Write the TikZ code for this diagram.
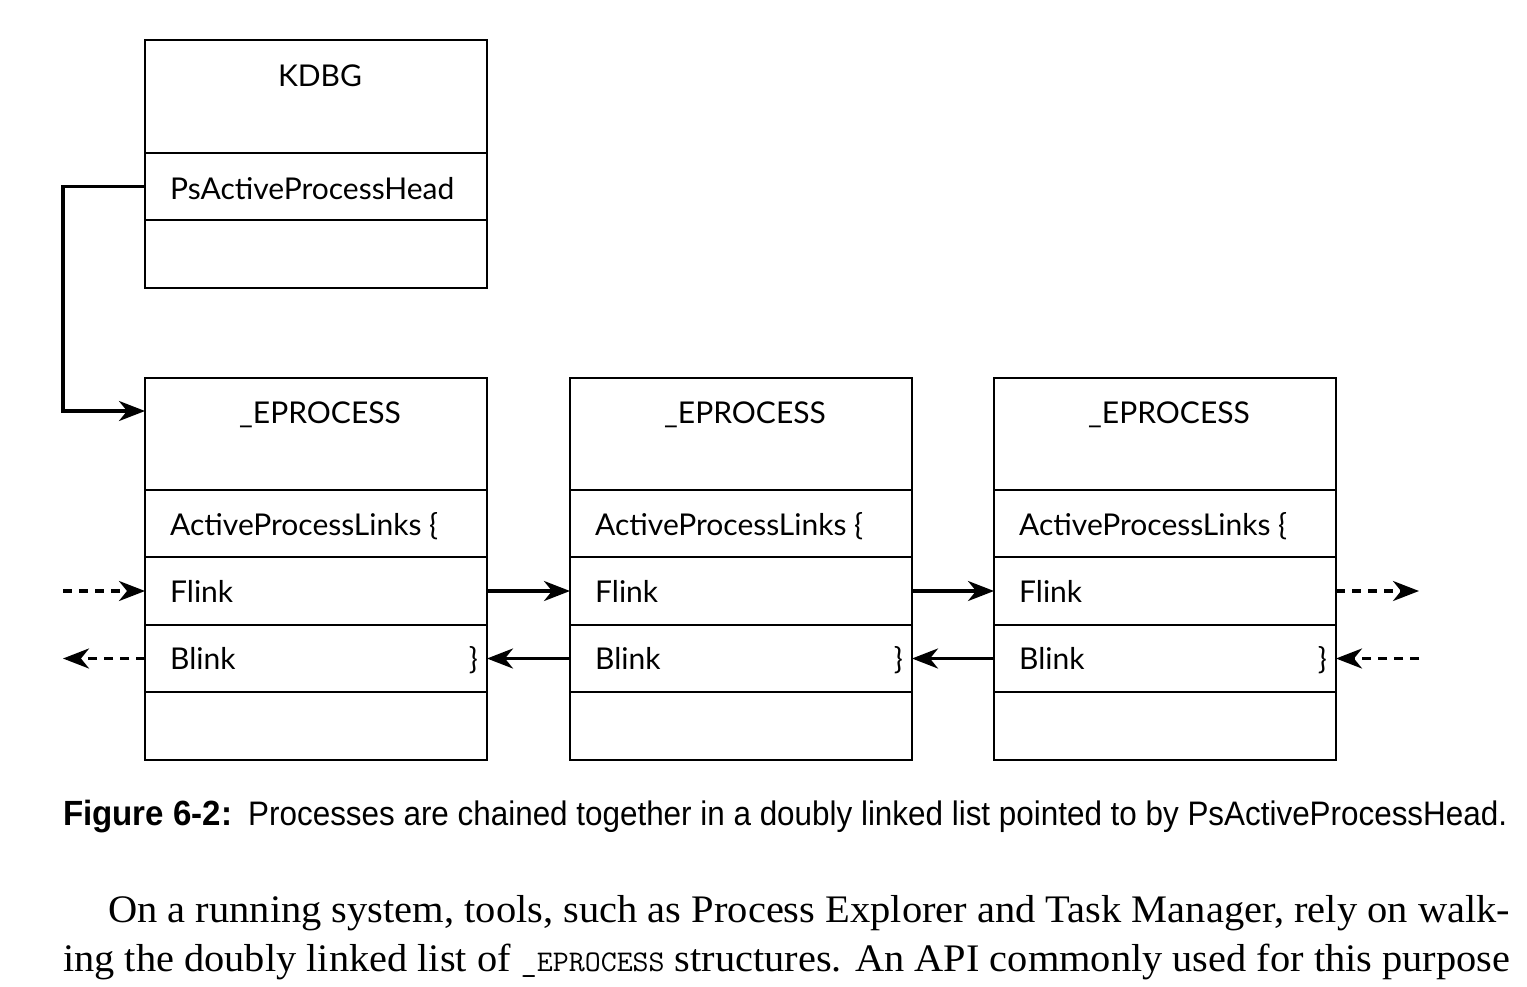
\documentclass[tikz,border=0pt]{standalone}
\usepackage{graphicx}
\usepackage{fontspec}
\newfontfamily\diag{Lato}
\newfontfamily\capfont{Liberation Sans}
\newfontfamily\parafont{Liberation Serif}
\usetikzlibrary{arrows.meta,calc}
\begin{document}
\begin{tikzpicture}[x=1pt,y=-1pt,
  row/.style={draw, line width=2.8pt, minimum width=342pt, anchor=north west, inner sep=0pt, outer sep=0pt},
  lbl/.style={font=\diag\fontsize{30}{36}\selectfont, inner sep=0pt, anchor=base west},
  ttl/.style={font=\diag\fontsize{30}{36}\selectfont, inner sep=0pt, anchor=base},
  conn/.style={line width=3.2pt, -{Stealth[length=26pt,width=20pt,inset=8pt]}},
  dconn/.style={conn, dash pattern=on 9pt off 7pt},
  txt/.style={inner sep=0pt, anchor=base west}]
\useasboundingbox[fill=white] (0,0) rectangle (1527,986);

% KDBG
\node[row, minimum height=113pt] (kt) at (145,40) {};
\node[row, minimum height=67pt] (kh) at (145,153) {};
\node[row, minimum height=68pt] (ke) at (145,220) {};
\node[ttl] (ktt) at ($(kt.north)+(4,46)$) {KDBG};
\node[lbl] (khl) at ($(kh.west)+(25,13)$) {PsActiveProcessHead};

% EPROCESS boxes
\foreach \i/\x in {1/145,2/570,3/994}{
  \node[row, minimum height=112pt] (t\i) at (\x,378) {};
  \node[row, minimum height=67pt] (l\i) at (\x,490) {};
  \node[row, minimum height=68pt] (f\i) at (\x,557) {};
  \node[row, minimum height=67pt] (b\i) at (\x,625) {};
  \node[row, minimum height=68pt] (e\i) at (\x,692) {};
  \node[ttl] (tt\i) at ($(t\i.north)+(4,45)$) {\_EPROCESS};
  \node[lbl] (ll\i) at ($(l\i.west)+(25,12)$) {ActiveProcessLinks \{};
  \node[lbl] (fl\i) at ($(f\i.west)+(25,11)$) {Flink};
  \node[lbl] (bl\i) at ($(b\i.west)+(25,11)$) {Blink};
  \node[lbl, anchor=base east] (br\i) at ($(b\i.east)+(-9,11)$) {\}};
}

% connectors
\coordinate (in1) at ($(t1.north west)+(0,33)$);
\draw[conn] (kh.west) -- ++(-82,0) |- (in1);
\draw[conn] (f1.east) -- (f2.west);
\draw[conn] (f2.east) -- (f3.west);
\draw[conn] (b2.west) -- (b1.east);
\draw[conn] (b3.west) -- (b2.east);
\coordinate (lf) at ($(f1.west)+(-82,0)$);
\coordinate (lb) at ($(b1.west)+(-82,0)$);
\coordinate (rf) at ($(f3.east)+(83,0)$);
\coordinate (rb) at ($(b3.east)+(83,0)$);
\draw[dconn] (lf) -- (f1.west);
\draw[dconn] (b1.west) -- (lb);
\draw[dconn] (f3.east) -- (rf);
\draw[dconn] (rb) -- (b3.east);

% caption
\node[txt] (capa) at (63,825) {\resizebox{169pt}{\height}{\capfont\bfseries\fontsize{35}{40}\selectfont Figure 6-2:}};
\node[txt] (capb) at (248,825) {\resizebox{1259pt}{\height}{\capfont\fontsize{34}{40}\selectfont Processes are chained together in a doubly linked list pointed to by PsActiveProcessHead.}};

% paragraph
\node[txt] (p1) at (108,922) {\resizebox{1402pt}{\height}{\parafont\fontsize{39}{45}\selectfont On a running system, tools, such as Process Explorer and Task Manager, rely on walk-}};
\node[txt] (p2) at (63,971) {\resizebox{1447pt}{\height}{\parafont\fontsize{39}{45}\selectfont ing the doubly linked list of {\ttfamily\fontsize{30}{36}\selectfont \_EPROCESS} structures. An API commonly used for this purpose}};
\end{tikzpicture}
\end{document}
